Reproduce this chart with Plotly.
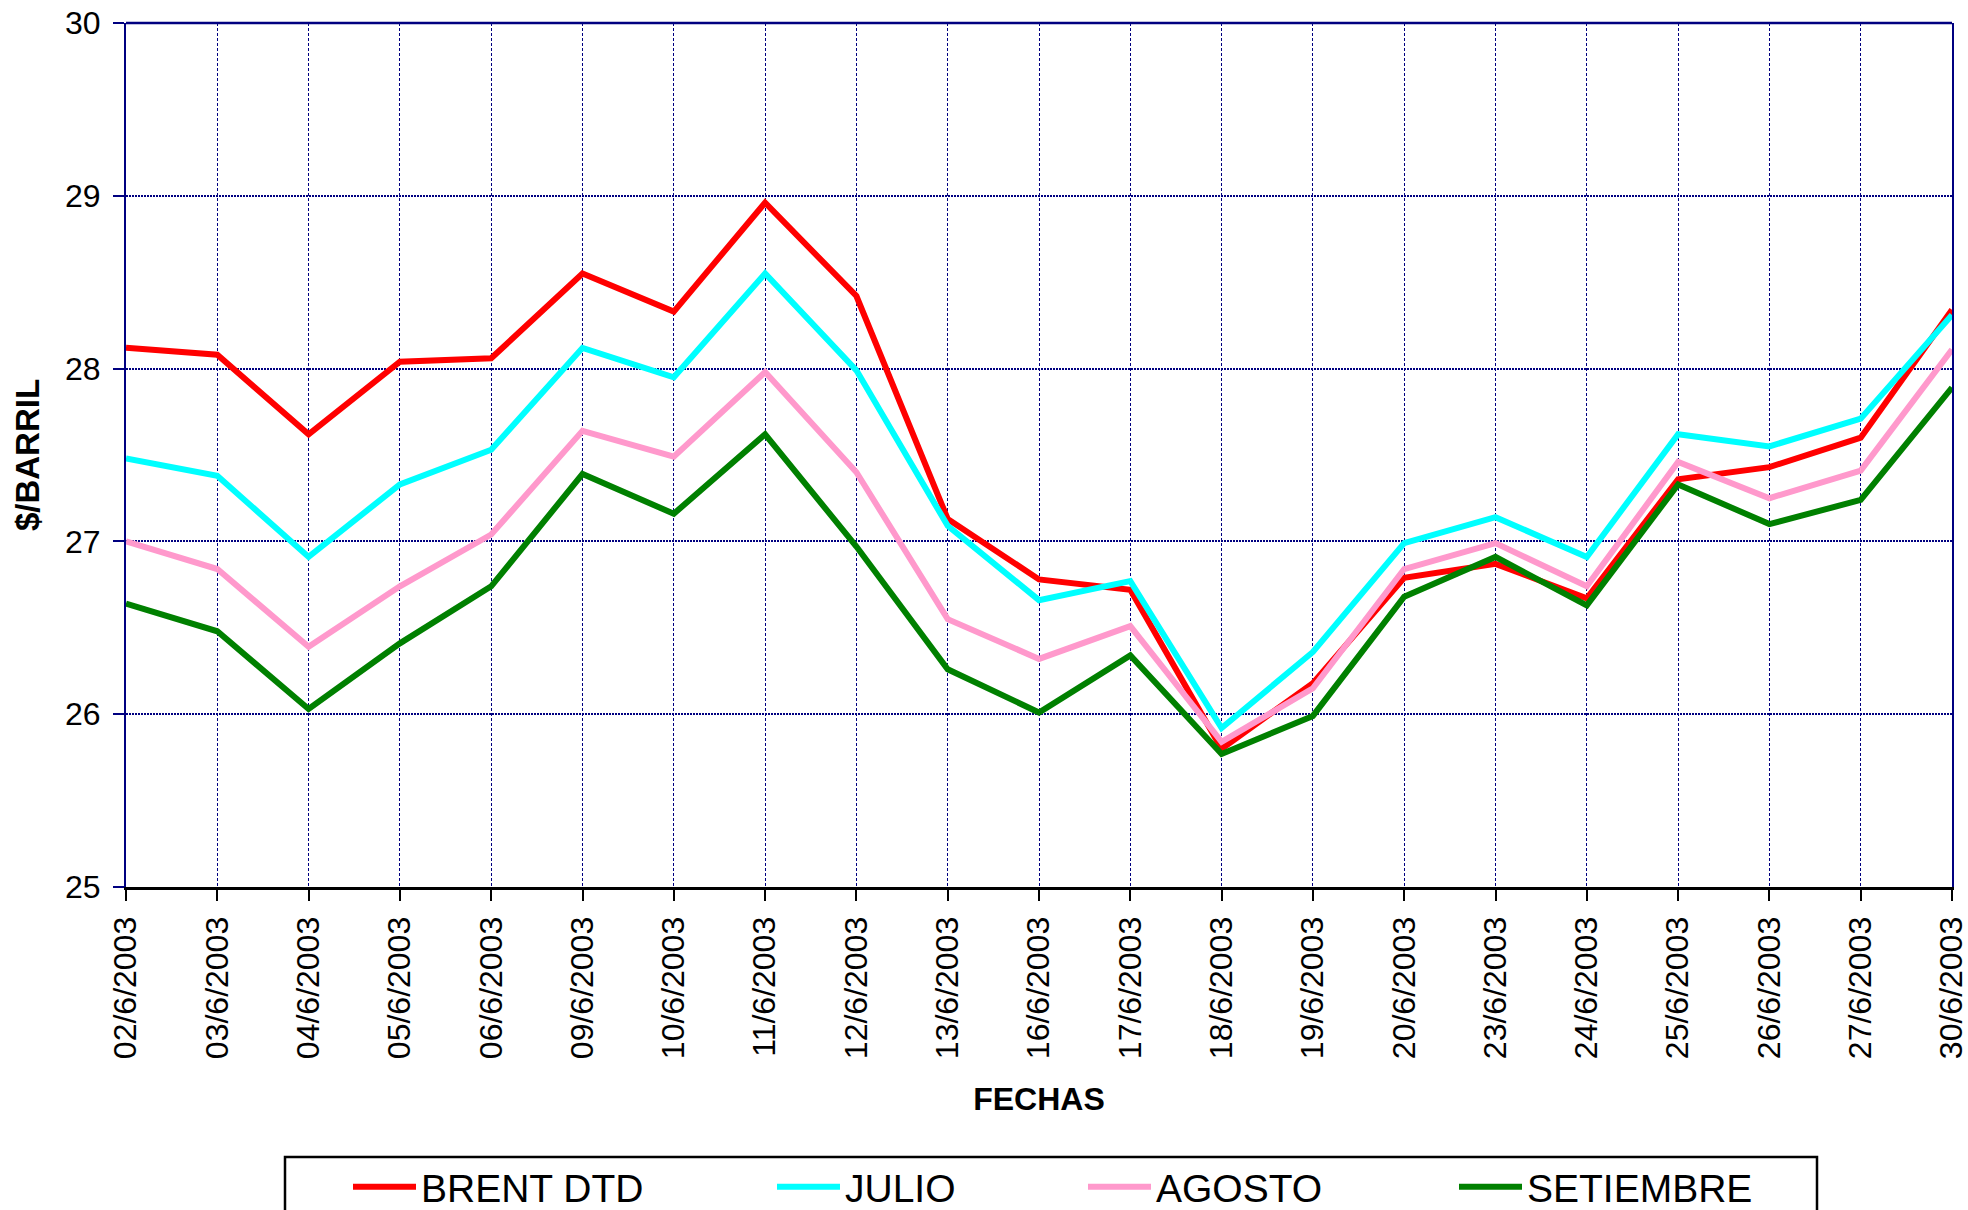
import plotly.graph_objects as go

dates = ["02/6/2003", "03/6/2003", "04/6/2003", "05/6/2003", "06/6/2003", "09/6/2003",
         "10/6/2003", "11/6/2003", "12/6/2003", "13/6/2003", "16/6/2003", "17/6/2003",
         "18/6/2003", "19/6/2003", "20/6/2003", "23/6/2003", "24/6/2003", "25/6/2003",
         "26/6/2003", "27/6/2003", "30/6/2003"]

brent_dtd = [28.12, 28.08, 27.62, 28.04, 28.06, 28.55, 28.33, 28.96, 28.42, 27.13, 26.78,
             26.72, 25.80, 26.18, 26.79, 26.87, 26.67, 27.36, 27.43, 27.60, 28.34]
julio = [27.48, 27.38, 26.91, 27.33, 27.53, 28.12, 27.95, 28.55, 27.99, 27.09, 26.66,
         26.77, 25.92, 26.36, 26.99, 27.14, 26.91, 27.62, 27.55, 27.71, 28.31]
agosto = [27.00, 26.84, 26.39, 26.74, 27.04, 27.64, 27.49, 27.98, 27.40, 26.55, 26.32,
          26.51, 25.84, 26.15, 26.84, 26.99, 26.74, 27.46, 27.25, 27.41, 28.11]
setiembre = [26.64, 26.48, 26.03, 26.41, 26.74, 27.39, 27.16, 27.62, 26.97, 26.26, 26.01,
             26.34, 25.77, 25.99, 26.68, 26.91, 26.63, 27.33, 27.10, 27.24, 27.89]

series_names = ["BRENT DTD", "JULIO", "AGOSTO", "SETIEMBRE"]
series_values = [brent_dtd, julio, agosto, setiembre]
series_colors = ["#FF0000", "#00FFFF", "#FF99CC", "#008000"]
legend_ids = ["legend", "legend2", "legend3", "legend4"]

FONT = "Liberation Sans, Arial, sans-serif"
NAVY = "#000080"

W, H = 1968, 1210
L, R, T, B = 126, 16, 23, 323
pw = W - L - R
ph = H - T - B


def px_to_paper_x(px):
    return (px - L) / pw


def px_to_paper_y(py):
    return (H - B - py) / ph


fig = go.Figure()
for name, vals, col, lg in zip(series_names, series_values, series_colors, legend_ids):
    fig.add_trace(go.Scatter(x=dates, y=vals, mode="lines", name=name,
                             line=dict(color=col, width=6), legend=lg))

legend_sample_px = [354, 778, 1089, 1460]
legend_center_y = px_to_paper_y(1187)
legend_common = dict(orientation="h", xanchor="left", yanchor="middle",
                     font=dict(family=FONT, size=39, color="black"),
                     bgcolor="rgba(0,0,0,0)", borderwidth=0, itemwidth=63)
legends = {}
for lg, sx in zip(legend_ids, legend_sample_px):
    legends[lg] = dict(legend_common, x=px_to_paper_x(sx - 6), y=legend_center_y)

fig.update_layout(
    width=W, height=H,
    margin=dict(l=L, r=R, t=T, b=B, autoexpand=False),
    paper_bgcolor="white", plot_bgcolor="white",
    font=dict(family=FONT, size=32, color="black"),
    showlegend=True,
    **legends,
    xaxis=dict(
        type="category", range=[0, len(dates) - 1], automargin=False,
        showgrid=True, gridcolor=NAVY, gridwidth=1, griddash="3px,2px",
        showline=True, linecolor="black", linewidth=3,
        ticks="outside", tickcolor="black", ticklen=11, tickwidth=2,
        tickangle=-90, tickfont=dict(family=FONT, size=32, color="black"),
        ticklabelstandoff=3,
        title=dict(text="<b>FECHAS</b>", font=dict(family=FONT, size=32, color="black"),
                   standoff=30),
    ),
    yaxis=dict(
        range=[25, 30], dtick=1, tick0=25, automargin=False,
        showgrid=True, gridcolor=NAVY, gridwidth=1.5, griddash="2px,1px",
        showline=True, linecolor=NAVY, linewidth=2, mirror=True,
        ticks="outside", tickcolor=NAVY, ticklen=11, tickwidth=2,
        tickfont=dict(family=FONT, size=32, color="black"),
        ticklabelstandoff=6, zeroline=False,
        title=dict(text="<b>$/BARRIL</b>", font=dict(family=FONT, size=33, color="black"),
                   standoff=15),
    ),
    shapes=[
        dict(type="line", xref="paper", yref="paper", x0=0, x1=1, y0=1, y1=1,
             line=dict(color=NAVY, width=2.5)),
        dict(type="rect", xref="paper", yref="paper",
             x0=px_to_paper_x(285), x1=px_to_paper_x(1817),
             y0=px_to_paper_y(1157), y1=px_to_paper_y(1230),
             line=dict(color="black", width=2.5), fillcolor="rgba(0,0,0,0)"),
    ],
)

fig.write_html("out.html", config={"displayModeBar": False},
               post_script="document.body.style.margin='0';document.body.style.overflow='hidden';")
